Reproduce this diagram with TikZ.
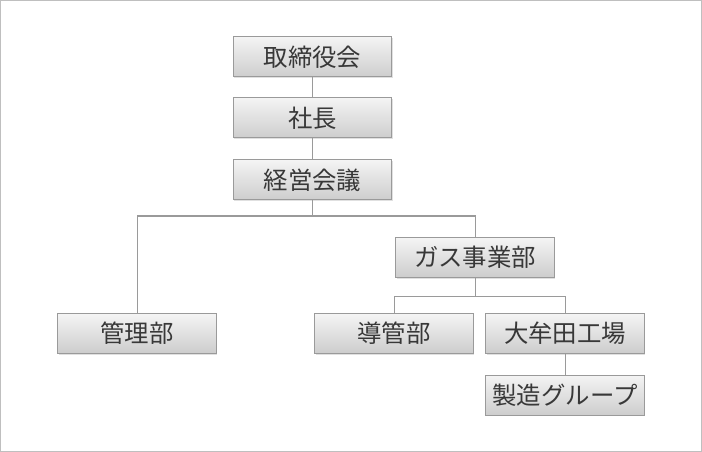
\documentclass[tikz,border=0pt]{standalone}
\usepackage{fontspec}
\newfontfamily\jpfont{Noto Sans CJK JP}
\usepackage{tikz}
\usetikzlibrary{shadows}

\definecolor{boxline}{HTML}{9A9A9A}
\definecolor{boxtop}{HTML}{F4F4F4}
\definecolor{boxbottom}{HTML}{CDCDCD}
\definecolor{textgray}{HTML}{383838}

\begin{document}
\begin{tikzpicture}[y=-0.75pt,x=0.75pt,
	orgbox/.style={draw=boxline, line width=0.75pt, top color=boxtop, bottom color=boxbottom,
		minimum width=119pt, minimum height=30pt, inner sep=0pt, text=textgray,
		font=\jpfont\fontsize{18.3}{20}\selectfont,
		drop shadow={shadow xshift=0.8pt, shadow yshift=-0.8pt, fill=black, opacity=0.12}},
	link/.style={draw=boxline, line width=0.75pt}]
	\useasboundingbox (0,0) rectangle (702,452);
	\draw [gray!50, line width=0.75pt] (0.5,0.5) rectangle (701.5,451.5);

	% top of the chart
	\node[orgbox] (board) at (312.5,57) {取締役会};
	\node[orgbox] (president) at (312.5,118) {社長};
	\node[orgbox] (council) at (312.5,180) {経営会議};

	% departments
	\node[orgbox] (gas) at (475,257.5) {ガス事業部};
	\node[orgbox] (admin) at (137,333.5) {管理部};
	\node[orgbox] (pipe) at (394,333.5) {導管部};
	\node[orgbox] (omuta) at (565,333.5) {大牟田工場};
	\node[orgbox] (prod) at (565,395) {製造グループ};

	% connectors
	\coordinate (split1) at (312.5,216);
	\coordinate (split2) at (475,296);
	\draw [link] (board) -- (president);
	\draw [link] (president) -- (council);
	\draw [link] (council) -- (split1);
	\draw [link] (split1) -| (admin);
	\draw [link] (split1) -| (gas);
	\draw [link] (gas) -- (split2);
	\draw [link] (split2) -| (pipe);
	\draw [link] (split2) -| (omuta);
	\draw [link] (omuta) -- (prod);
\end{tikzpicture}
\end{document}
